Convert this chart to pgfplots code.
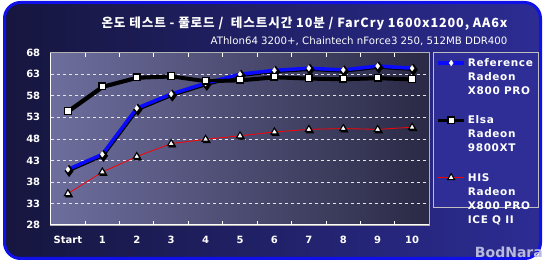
\documentclass[border=0pt]{standalone}
\usepackage{fontspec}
\setmainfont{DejaVu Sans}
\newfontfamily\kr{Noto Sans CJK KR}
\usepackage{pgfplots}
\pgfplotsset{compat=1.18}
\definecolor{frameblue}{HTML}{1010E8}
\definecolor{bgleft}{HTML}{16163E}
\definecolor{bgright}{HTML}{2C2C94}
\definecolor{plotleft}{HTML}{6E6E9E}
\definecolor{plotright}{HTML}{2A2A46}
\definecolor{legfill}{HTML}{2E2E96}
\definecolor{refblue}{HTML}{0A0AFF}
\begin{document}
\begin{tikzpicture}[x=1pt,y=1pt]
\useasboundingbox (0,0) rectangle (546,262);
\fill[white] (0,0) rectangle (546,262);
\draw[line width=3pt, draw=frameblue, left color=bgleft, right color=bgright, rounded corners=16pt] (4.5,3.5) rectangle (540.5,259.5);
\node[anchor=east, text=white, font=\kr\bfseries\fontsize{12.6}{14}\selectfont\addfontfeature{LetterSpace=7}] at (511,238) {온도 테스트 - 풀로드 /\ \ 테스트시간 10분 / FarCry 1600x1200, AA6x};
\node[anchor=east, text=white, font=\fontsize{10.2}{12}\selectfont] at (511,221) {AThlon64 3200+, Chaintech nForce3 250, 512MB DDR400};
\node[anchor=south east, inner sep=0pt, text=gray!60!blue!40!white, font=\bfseries\fontsize{14}{14}\selectfont] at (543,4) {BodNara};
\begin{axis}[
  at={(50.7pt,37pt)}, anchor=south west,
  scale only axis, width=378.6pt, height=172.3pt,
  xmin=-0.5, xmax=10.5, ymin=28, ymax=68,
  xtick={0,...,10},
  xticklabels={Start,1,2,3,4,5,6,7,8,9,10},
  minor xtick={0.5,1.5,...,9.5},
  ytick={28,33,...,68},
  major tick length=0pt,
  minor tick length=4pt,
  tick align=inside,
  minor tick style={white, line width=1pt},
  ymajorgrids,
  grid style={dashed, white!80!gray, line width=0.6pt},
  axis line style={draw=gray!60, line width=0.8pt},
  axis background/.style={left color=plotleft, right color=plotright},
  /pgf/number format/assume math mode=true,
  tick label style={text=white, font=\bfseries\fontsize{10}{12}\selectfont},
  yticklabel style={xshift=-7pt},
  xticklabel style={yshift=-8pt},
  clip=false,
  legend style={at={(1.0098,1.0023)}, anchor=north west, draw=gray!50, line width=0.8pt, fill=legfill, text=white,
     font=\bfseries\fontsize{10.5}{13}\selectfont\addfontfeature{LetterSpace=6}\def\arraystretch{1.08},
     inner xsep=3pt, inner ysep=2pt, row sep=28pt, cells={anchor=base west}},
]
% shadows
\addplot[black, line width=3.5pt, xshift=0.8pt, yshift=-1pt, forget plot] coordinates {
(0,40.9)(1,44.4)(2,55.1)(3,58.4)(4,60.9)(5,63.0)(6,63.9)(7,64.4)(8,64.0)(9,64.9)(10,64.4)};
\addplot[black, line width=3pt, xshift=0.8pt, yshift=-1pt, forget plot] coordinates {
(0,54.5)(1,60.2)(2,62.3)(3,62.6)(4,61.5)(5,61.7)(6,62.4)(7,62.1)(8,61.95)(9,62.2)(10,61.9)};
\addplot[refblue, line width=3.5pt, only marks, mark=diamond*, mark size=3.2pt, mark options={fill=black, draw=black, xshift=1.2pt, yshift=-1.5pt}, forget plot] coordinates {
(0,40.9)(1,44.4)(2,55.1)(3,58.4)(4,60.9)(5,63.0)(6,63.9)(7,64.4)(8,64.0)(9,64.9)(10,64.4)};
% Reference
\addplot[refblue, line width=3.5pt, mark=diamond*, mark size=2.8pt, mark options={fill=white, draw=white, line width=0.3pt},
  legend image code/.code={\draw[mark repeat=2,mark phase=2] plot coordinates {(0pt,17.5pt)(13pt,17.5pt)(26pt,17.5pt)};}] coordinates {
(0,40.9)(1,44.4)(2,55.1)(3,58.4)(4,60.9)(5,63.0)(6,63.9)(7,64.4)(8,64.0)(9,64.9)(10,64.4)};
\addlegendentry{\begin{tabular}{@{}l@{}}Reference\\Radeon\\X800 PRO\end{tabular}}
% Elsa
\addplot[black, line width=3pt, mark=square*, mark size=3.3pt, mark options={fill=white, draw=black, line width=1.3pt},
  legend image code/.code={\draw[mark repeat=2,mark phase=2] plot coordinates {(0pt,17.5pt)(13pt,17.5pt)(26pt,17.5pt)};}] coordinates {
(0,54.5)(1,60.2)(2,62.3)(3,62.6)(4,61.5)(5,61.7)(6,62.4)(7,62.1)(8,61.95)(9,62.2)(10,61.9)};
\addlegendentry{\begin{tabular}{@{}l@{}}Elsa\\Radeon\\9800XT\end{tabular}}
% HIS
\addplot[red, line width=0.8pt, only marks, mark=triangle*, mark size=4pt, mark options={fill=black, draw=black, xshift=1.2pt, yshift=-1.5pt}, forget plot] coordinates {
(0,35.3)(1,40.3)(2,43.9)(3,46.9)(4,47.9)(5,48.7)(6,49.6)(7,50.2)(8,50.4)(9,50.2)(10,50.7)};
\addplot[red, line width=0.8pt, mark=triangle*, mark size=4pt, mark options={fill=white, draw=black, line width=1.1pt},
  legend image code/.code={\draw[mark repeat=2,mark phase=2] plot coordinates {(0pt,24.5pt)(13pt,24.5pt)(26pt,24.5pt)};}] coordinates {
(0,35.3)(1,40.3)(2,43.9)(3,46.9)(4,47.9)(5,48.7)(6,49.6)(7,50.2)(8,50.4)(9,50.2)(10,50.7)};
\addlegendentry{\begin{tabular}{@{}l@{}}HIS\\Radeon\\X800 PRO\\ICE Q II\end{tabular}}
\draw[white, line width=1pt] (rel axis cs:0,1) -- (rel axis cs:0,0) -- (rel axis cs:1,0);
\end{axis}
\end{tikzpicture}
\end{document}
